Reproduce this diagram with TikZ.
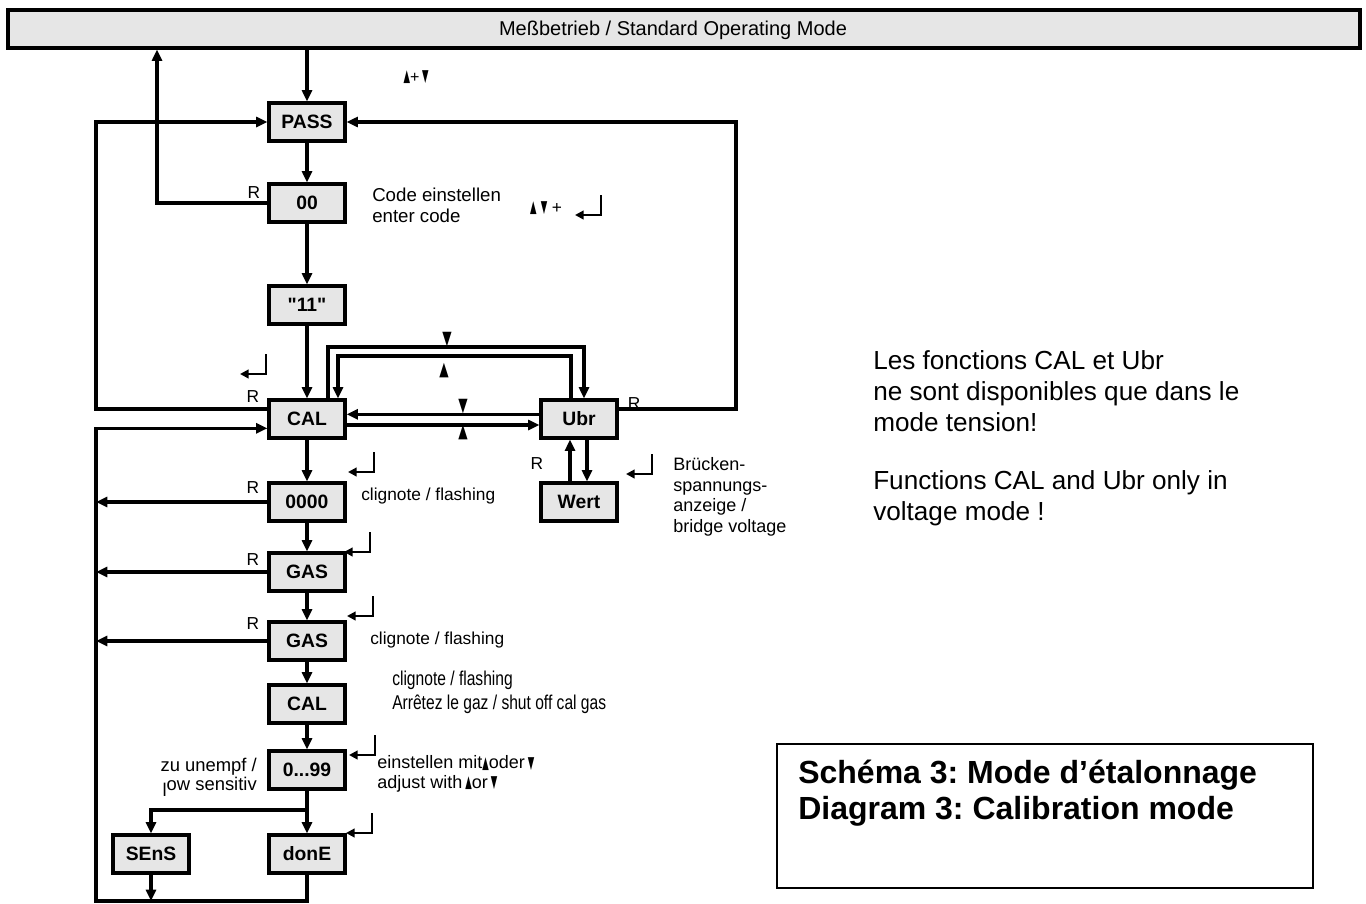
\documentclass[tikz,border=0pt]{standalone}
\usepackage{fontspec}
\setmainfont{Liberation Sans}
\newfontfamily\dvfont{DejaVu Sans}
\newfontfamily\rawfont{Liberation Sans}[Ligatures=TeXOff]
\newfontfamily\narrowfont{Liberation Sans}[FakeStretch=0.78]
\usepackage{graphicx}
\usetikzlibrary{arrows.meta,calc}
\definecolor{boxgray}{RGB}{230,230,230}
\newcommand\tup{\raisebox{0.05em}{\dvfont\fontsize{11.5}{11.5}\selectfont\scalebox{0.55}[1.1]{▲}}}
\newcommand\tdn{\raisebox{0.05em}{\dvfont\fontsize{11.5}{11.5}\selectfont\scalebox{0.55}[1.1]{▼}}}
\newcommand\btup{{\dvfont\fontsize{13}{13}\selectfont\scalebox{0.7}[1.1]{▲}}}
\newcommand\btdn{{\dvfont\fontsize{13}{13}\selectfont\scalebox{0.7}[1.1]{▼}}}
\frenchspacing
\begin{document}
\begin{tikzpicture}[x=0.75pt,y=-0.75pt,
  box/.style={draw,fill=boxgray,line width=2.4pt,minimum width=57pt,minimum height=28.5pt,inner sep=0pt,font=\fontsize{14.5}{16}\selectfont\bfseries},
  ln/.style={line width=2.4pt},
  arr/.style={ln,-{Triangle[length=8.5pt,width=7.5pt]}},
  lbl/.style={inner sep=0pt,font=\fontsize{13}{15.5}\selectfont,align=left},
  rl/.style={inner sep=0pt,font=\fontsize{13}{15}\selectfont},
  tri/.style={inner sep=0pt},
  retkey/.pic={\draw[line width=2.2pt,-{Triangle[length=6.5pt,width=6.5pt]}] (0,0) -- (0,20) -- (-26,20);}
]
\useasboundingbox (0,0) rectangle (1366,903);
% top bar
\fill (10,12) rectangle (1362,50);
\node[draw,fill=boxgray,line width=2.4pt,minimum width=1014pt,minimum height=28.5pt,inner sep=0pt] (bar) at (684,29) {};
\node[inner sep=0pt,font=\fontsize{15}{17}\selectfont] (bartext) at (673,30) {Meßbetrieb / Standard Operating Mode};

% boxes
\node[box] (pass) at (307,122) {PASS};
\node[box] (zero) at (307,203) {00};
\node[box] (eleven) at (307,305) {\rawfont\bfseries "11"};
\node[box] (cal) at (307,419) {CAL};
\node[box] (ubr) at (579,419) {Ubr};
\node[box] (wert) at (579,502) {Wert};
\node[box] (f0000) at (307,502) {0000};
\node[box] (gas1) at (307,572) {GAS};
\node[box] (gas2) at (307,641) {GAS};
\node[box] (cal2) at (307,704) {CAL};
\node[box] (n099) at (307,770) {0...99};
\node[box] (sens) at (151,854) {SEnS};
\node[box] (done) at (307,854) {donE};

% helper coordinates
\coordinate (rx) at (157,0);
\coordinate (lx) at (96,0);
\coordinate (rx2) at (736,0);
\coordinate (bot) at (96,901);
\coordinate (o1) at (328,347);
\coordinate (o2) at (584,347);
\coordinate (i1) at (338,356);
\coordinate (i2) at (571,356);
\coordinate (w1) at (570,0);
\coordinate (w2) at (587,0);
\coordinate (br) at (307,810);

% connectors
\draw[arr] (pass.north |- bar.south) -- (pass.north);
\draw[arr] (zero.west) -| (rx |- bar.south);
\draw[arr] ([yshift=7.5pt]cal.west) -| (lx |- pass.west) -- (pass.west);
\draw[arr] ([yshift=7.5pt]ubr.east) -| (rx2 |- pass.east) -- (pass.east);
\draw[arr] (pass) -- (zero);
\draw[arr] (zero) -- (eleven);
\draw[arr] (eleven) -- (cal);
\draw[arr] (cal) -- (f0000);
\draw[arr] (f0000) -- (gas1);
\draw[arr] (gas1) -- (gas2);
\draw[arr] (gas2) -- (cal2);
\draw[arr] (cal2) -- (n099);
\draw[arr] (n099) -- (done);
\draw[arr] (br) -| (sens.north);
\draw[arr] ([yshift=3.5pt]ubr.west) -- ([yshift=3.5pt]cal.east);
\draw[arr] ([yshift=-4.5pt]cal.east) -- ([yshift=-4.5pt]ubr.west);
\draw[arr] (cal.north -| o1) -- (o1) -- (o2) -- (ubr.north -| o2);
\draw[arr] (ubr.north -| i2) -- (i2) -- (i1) -- (cal.north -| i1);
\draw[arr] (wert.north -| w1) -- (ubr.south -| w1);
\draw[arr] (ubr.south -| w2) -- (wert.north -| w2);
\draw[arr] (f0000.west) -- (lx |- f0000.west);
\draw[arr] (gas1.west) -- (lx |- gas1.west);
\draw[arr] (gas2.west) -- (lx |- gas2.west);
\draw[arr] (sens.south) -- (sens.south |- bot);
\draw[arr] (done.south) |- (bot) |- ([yshift=-7pt]cal.west);

% enter symbols
\pic at (601,195) {retkey};
\pic at (266,354) {retkey};
\pic at (374,452) {retkey};
\pic at (370,532) {retkey};
\pic at (373,596) {retkey};
\pic at (375,735) {retkey};
\pic at (372,813) {retkey};
\pic at (652,454) {retkey};

% R labels
\node[rl] (r1) at (254,193) {R};
\node[rl] (r2) at (253,397) {R};
\node[rl] (r3) at (634,404) {R};
\node[rl] (r4) at (253,488) {R};
\node[rl] (r5) at (253,560) {R};
\node[rl] (r6) at (253,624) {R};
\node[rl] (r7) at (537,464) {R};

% triangle labels
\node[tri] (t1) at (416,77) {\tup\fontsize{12}{14}\selectfont+\,\tdn};
\node[tri] (t2) at (546,208) {\tup\,\,\tdn\,\,\fontsize{13}{15}\selectfont +};
\node[tri] (t3) at (447,340) {\btdn};
\node[tri] (t4) at (444,371) {\btup};
\node[tri] (t5) at (463,407) {\btdn};
\node[tri] (t6) at (463,433) {\btup};

% texts
\node[lbl,anchor=west,font=\fontsize{14}{16}\selectfont] (code) at (372,205) {Code einstellen\\enter code};
\node[lbl,anchor=west] (fl1) at (361,496) {clignote / flashing};
\node[lbl,anchor=west,font=\fontsize{13.5}{15.5}\selectfont] (bruck) at (673,497) {Brücken-\\spannungs-\\anzeige /\\bridge voltage};
\node[lbl,anchor=west] (fl2) at (370,640) {clignote / flashing};
\node[lbl,anchor=west,font=\narrowfont\fontsize{15}{18}\selectfont] (fl3) at (392,692) {clignote / flashing\\Arrêtez le gaz / shut off cal gas};
\node[lbl,anchor=west,font=\fontsize{13.5}{14.5}\selectfont] (adj) at (377,774) {einstellen mit\tup oder\,\tdn\\adjust with\,\tup or\,\tdn};
\node[lbl,anchor=east,align=right,font=\fontsize{13.8}{14.5}\selectfont] (unemp) at (257,777) {zu unempf /\\\raisebox{-0.3em}{l}ow sensitiv};

\node[inner sep=0pt,anchor=west,align=left,font=\fontsize{19.6}{23.25}\selectfont] (fr) at (873,391) {Les fonctions CAL et Ubr\\ne sont disponibles que dans le\\mode tension!};
\node[inner sep=0pt,anchor=west,align=left,font=\fontsize{19.6}{23.25}\selectfont] (en) at (873,498) {Functions CAL and Ubr only in\\voltage mode !};

\node[draw,line width=1.1pt,minimum width=402pt,minimum height=108pt,inner sep=0pt] (tbox) at (1045,816) {};
\node[anchor=north west,inner sep=0pt,align=left,font=\fontsize{24}{27}\selectfont\bfseries] (title) at (798,760) {Schéma 3: Mode d’étalonnage\\Diagram 3: Calibration mode};
\end{tikzpicture}
\end{document}
